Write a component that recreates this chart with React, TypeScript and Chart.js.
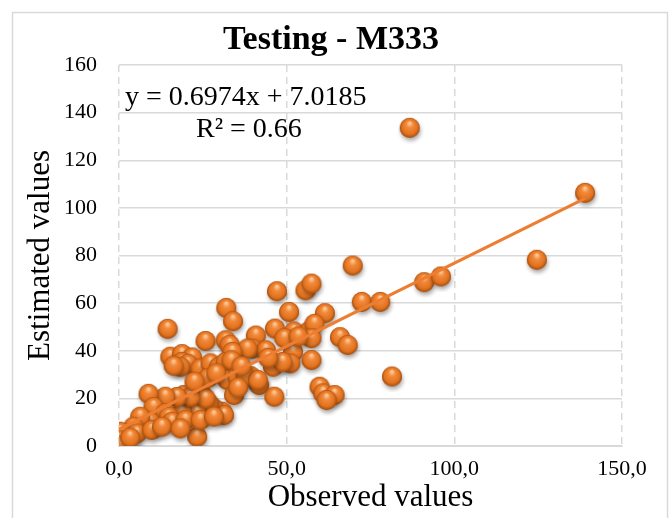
import React, { useEffect, useRef } from "react";
import { Chart, registerables } from "chart.js";

Chart.register(...registerables);

const chartTitle = "Testing - M333";
const xAxisTitle = "Observed values";
const yAxisTitle = "Estimated values";
const equationText = "y = 0.6974x + 7.0185";
const r2Text = "R² = 0.66";
const trendSlope = 0.6974;
const trendIntercept = 7.0185;

const xTickValues = [0, 50, 100, 150];
const xTickLabels = ["0,0", "50,0", "100,0", "150,0"];
const yTickLabels = ["0", "20", "40", "60", "80", "100", "120", "140", "160"];

const observed = [
  86.7, 139, 124.6, 91, 96, 69.7, 72.4, 77.9, 81.4,
  47.1, 55.6, 57.4, 50.7, 61.4, 46.5, 40.8, 52.2, 56.8, 58.3, 57.4, 65.9, 68.2,
  39.8, 43.8, 51.9, 49.3, 53.5, 57.4, 51.1, 45.9, 48.8, 39.3, 41.8, 46.3, 59.8,
  60.9, 64.3, 61.9, 32, 34, 14.5, 25.8, 31.8, 33, 38.3, 33.8, 15.3, 18.8, 21.8,
  18.8, 20.5, 18.3, 16.3, 24.3, 27.3, 29.8, 31.8, 33.5, 32.3, 35.3, 37.8, 41.4,
  34.3, 30.8, 28.3, 31.3, 26.8, 23.3, 18.8, 19.3, 24.3, 25.8, 21.3, 17.3, 13.8,
  8.8, 10.3, 13.8, 14.8, 15.8, 23.3, 19.8, 24.3, 9.3, 6.3, 4.3, 2.3, 0.3, 0,
  1, 5.3, 9.8, 12.8, 18.3, 3.3, 28.3, 26.5, 29, 22.5, 36.5, 44.5, 35.5,
];
const estimated = [
  133.6, 106.3, 78.2, 68.8, 71.2, 75.8, 60.5, 60.5, 29.2,
  65, 65.4, 68.2, 56.3, 55.8, 49.3, 46.4, 48.1, 48.4, 51.3, 45.3, 45.7, 42.4,
  40.9, 40.2, 39.5, 45.3, 46, 36.1, 34.7, 33.3, 35.3, 29.3, 25.6, 20.7, 24.9,
  22.1, 21.4, 19.3, 58, 52.4, 49.2, 44.1, 44.4, 42.5, 40.9, 39.5, 37.5, 38.6, 37.2,
  35.3, 34.5, 33.3, 33.7, 32.6, 34.7, 33.3, 35.3, 36, 27.7, 29.1, 29.1, 27.7,
  21.4, 14.4, 15.8, 13, 17.9, 13.8, 14.4, 21.4, 22.8, 20, 20.7, 20.6, 20.7,
  21.9, 16.4, 13.8, 12.3, 10.2, 3.9, 10.9, 10.9, 10.2, 12.3, 8.1, 5.3, 6, 2.5,
  0.5, 5.3, 6.7, 8.1, 7.4, 3.5, 12.3, 28.5, 30.5, 27, 33.5, 37, 24.5,
];

function makeSphere(r: number): HTMLCanvasElement {
  const pad = 6;
  const size = Math.ceil(r * 2 + pad * 2);
  const c = document.createElement("canvas");
  c.width = size;
  c.height = size;
  const g = c.getContext("2d")!;
  const cx = size / 2;
  const cy = size / 2;
  g.save();
  g.shadowColor = "rgba(0,0,0,0.35)";
  g.shadowBlur = 4;
  g.shadowOffsetX = 1;
  g.shadowOffsetY = 3;
  g.beginPath();
  g.arc(cx, cy, r, 0, Math.PI * 2);
  g.fillStyle = "#C8631E";
  g.fill();
  g.restore();
  const grad = g.createRadialGradient(cx, cy - r * 0.5, r * 0.08, cx, cy, r);
  grad.addColorStop(0, "#FCC895");
  grad.addColorStop(0.3, "#F2893A");
  grad.addColorStop(0.75, "#E2731F");
  grad.addColorStop(1, "#A14C10");
  g.beginPath();
  g.arc(cx, cy, r, 0, Math.PI * 2);
  g.fillStyle = grad;
  g.fill();
  return c;
}

const serif = "'Liberation Serif', 'Times New Roman', serif";

export default function App() {
  const ref = useRef<HTMLCanvasElement | null>(null);
  useEffect(() => {
    if (!ref.current) return;
    const sphere = makeSphere(10);
    const points = observed.map((x, i) => ({ x, y: estimated[i] }));
    const xMin = Math.min(...observed);
    const xMax = Math.max(...observed);
    const trend = [
      { x: xMin, y: trendSlope * xMin + trendIntercept },
      { x: xMax, y: trendSlope * xMax + trendIntercept },
    ];
    const decor = {
      id: "decor",
      beforeDraw(chart: any) {
        const ctx = chart.ctx;
        ctx.save();
        ctx.fillStyle = "#ffffff";
        ctx.fillRect(0, 0, chart.width, chart.height);
        ctx.strokeStyle = "#d9d9d9";
        ctx.lineWidth = 1.5;
        ctx.strokeRect(12.5, 12.5, 655, 530);
        ctx.restore();
      },
      afterDraw(chart: any) {
        const ctx = chart.ctx;
        const a = chart.chartArea;
        ctx.save();
        ctx.fillStyle = "#000000";
        ctx.textBaseline = "middle";
        ctx.textAlign = "center";
        ctx.font = `bold 34px ${serif}`;
        ctx.fillText(chartTitle, 331, 40);
        ctx.font = `28px ${serif}`;
        ctx.textAlign = "left";
        ctx.fillText(equationText, a.left + 6, a.top + 33);
        ctx.fillText(r2Text, a.left + 77, a.top + 65);
        ctx.restore();
      },
    };
    const chart = new Chart(ref.current, {
      type: "scatter",
      data: {
        datasets: [
          {
            label: "points",
            data: points,
            pointStyle: sphere as any,
            pointRadius: 10,
            pointHoverRadius: 10,
            order: 1,
          },
          {
            type: "line",
            label: "trend",
            data: trend,
            borderColor: "#ED7D31",
            borderWidth: 3,
            pointRadius: 0,
            fill: false,
            order: 0,
          } as any,
        ],
      },
      options: {
        animation: false,
        responsive: false,
        devicePixelRatio: 1,
        layout: { padding: { left: 0, right: 50, top: 65, bottom: 0 } },
        plugins: {
          legend: { display: false },
          tooltip: { enabled: false },
          title: { display: false },
        },
        scales: {
          x: {
            type: "linear",
            min: 0,
            max: 150,
            afterBuildTicks(scale: any) {
              scale.ticks = xTickValues.map((v) => ({ value: v }));
            },
            afterFit(scale: any) {
              scale.height = 72;
            },
            ticks: {
              color: "#000000",
              font: { family: serif, size: 22 },
              padding: 10,
              callback: (v: any) => xTickLabels[xTickValues.indexOf(Number(v))] ?? "",
            },
            grid: {
              color: "#d9d9d9",
              lineWidth: 1.5,
              drawTicks: false,
            },
            border: { display: true, color: "#d9d9d9", width: 2, dash: [7, 5] },
            title: {
              display: true,
              text: xAxisTitle,
              color: "#000000",
              font: { family: serif, size: 31, lineHeight: 1.2 },
              padding: { top: 0, bottom: 2 },
            },
          },
          y: {
            type: "linear",
            min: 0,
            max: 160,
            afterFit(scale: any) {
              scale.width = 119;
            },
            ticks: {
              stepSize: 20,
              color: "#000000",
              font: { family: serif, size: 22 },
              padding: 22,
              callback: (v: any) => yTickLabels[Math.round(Number(v) / 20)] ?? "",
            },
            grid: {
              color: "#d9d9d9",
              lineWidth: 1.5,
              drawTicks: false,
            },
            border: { display: false, dash: [] },
            title: {
              display: true,
              text: yAxisTitle,
              color: "#000000",
              font: { family: serif, size: 31, lineHeight: 1.2 },
              padding: { top: 22, bottom: 0 },
            },
          },
        },
      },
      plugins: [decor],
    });
    return () => chart.destroy();
  }, []);
  return (
    <div style={{ position: "fixed", left: 0, top: 0, width: 672, height: 518, background: "#fff" }}>
      <canvas ref={ref} width={672} height={518} style={{ display: "block" }} />
    </div>
  );
}
